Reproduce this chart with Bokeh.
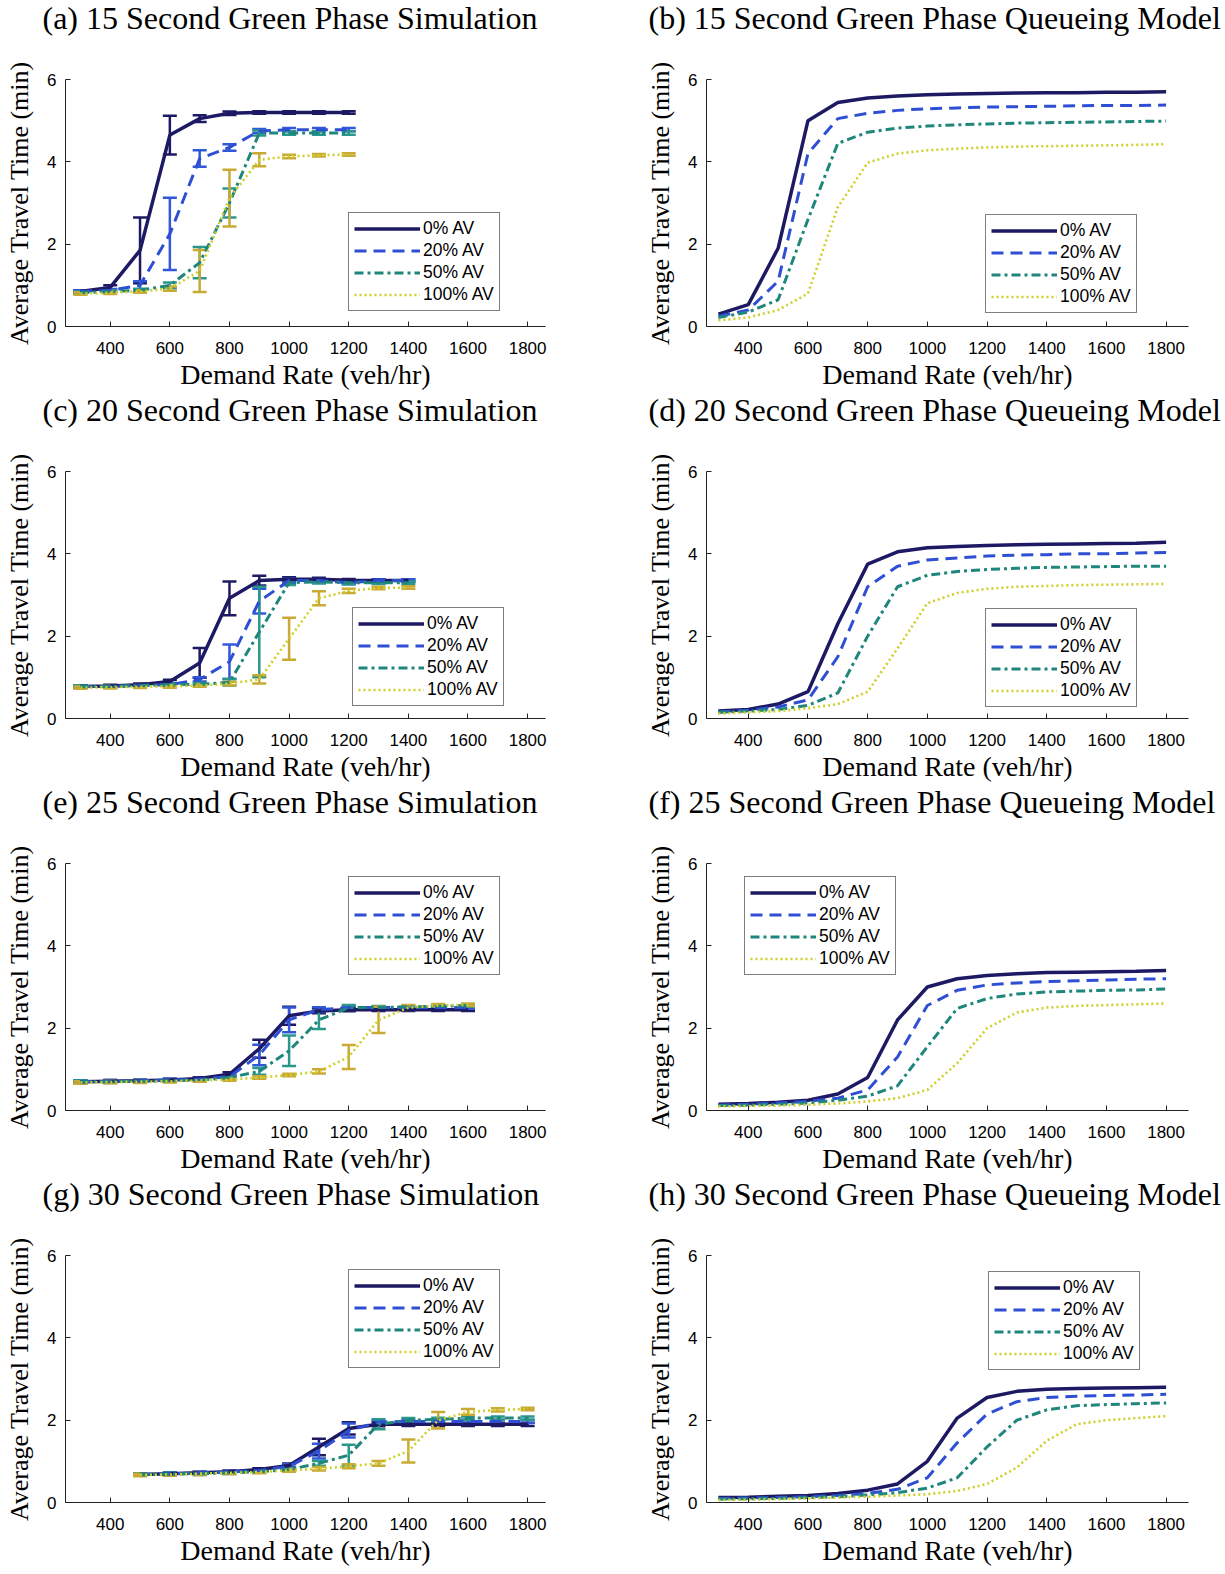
from bokeh.plotting import figure
from bokeh.models import ColumnDataSource, Whisker, TeeHead, Legend, LegendItem, FixedTicker, Title
from bokeh.layouts import gridplot
from bokeh.embed import file_html
from bokeh.resources import INLINE

# ---------------- data ----------------
series_labels = ["0% AV", "20% AV", "50% AV", "100% AV"]
x_ticks = [400, 600, 800, 1000, 1200, 1400, 1600, 1800]
y_ticks = [0, 2, 4, 6]

titles = [
    "(a) 15 Second Green Phase Simulation",
    "(b) 15 Second Green Phase Queueing Model",
    "(c) 20 Second Green Phase Simulation",
    "(d) 20 Second Green Phase Queueing Model",
    "(e) 25 Second Green Phase Simulation",
    "(f) 25 Second Green Phase Queueing Model",
    "(g) 30 Second Green Phase Simulation",
    "(h) 30 Second Green Phase Queueing Model",
]

# (a) 15 s simulation
a_x = [300, 400, 500, 600, 700, 800, 900, 1000, 1100, 1200]
a_av0 = [0.85, 0.95, 1.85, 4.65, 5.05, 5.18, 5.2, 5.2, 5.2, 5.2]
a_av20 = [0.85, 0.88, 1.0, 2.25, 4.08, 4.35, 4.75, 4.78, 4.78, 4.78]
a_av50 = [0.82, 0.85, 0.88, 1.0, 1.55, 3.0, 4.7, 4.7, 4.7, 4.7]
a_av100 = [0.8, 0.82, 0.85, 0.92, 1.35, 3.12, 4.05, 4.13, 4.16, 4.18]
a_err0 = [0.03, 0.05, 0.8, 0.47, 0.08, 0.04, 0.03, 0.03, 0.03, 0.03]
a_err20 = [0.03, 0.03, 0.1, 0.88, 0.2, 0.08, 0.05, 0.04, 0.04, 0.04]
a_err50 = [0.03, 0.03, 0.04, 0.07, 0.38, 0.35, 0.06, 0.04, 0.04, 0.04]
a_err100 = [0.03, 0.03, 0.03, 0.05, 0.51, 0.69, 0.16, 0.04, 0.03, 0.03]

# (b) 15 s queueing model
q_x = [300, 400, 500, 600, 700, 800, 900, 1000, 1100, 1200, 1300, 1400, 1500, 1600, 1700, 1800]
b_av0 = [0.3, 0.53, 1.9, 5.0, 5.44, 5.55, 5.6, 5.63, 5.65, 5.66, 5.67, 5.68, 5.68, 5.69, 5.69, 5.7]
b_av20 = [0.25, 0.4, 1.1, 4.2, 5.05, 5.18, 5.25, 5.29, 5.31, 5.33, 5.34, 5.35, 5.36, 5.37, 5.37, 5.38]
b_av50 = [0.22, 0.35, 0.65, 2.6, 4.45, 4.72, 4.82, 4.87, 4.9, 4.92, 4.94, 4.95, 4.96, 4.97, 4.98, 4.99]
b_av100 = [0.15, 0.22, 0.4, 0.8, 2.9, 3.98, 4.2, 4.28, 4.32, 4.35, 4.37, 4.38, 4.39, 4.4, 4.41, 4.43]

# (c) 20 s simulation
c_x = [300, 400, 500, 600, 700, 800, 900, 1000, 1100, 1200, 1300, 1400]
c_av0 = [0.78, 0.79, 0.82, 0.9, 1.35, 2.92, 3.35, 3.38, 3.38, 3.36, 3.35, 3.35]
c_av20 = [0.78, 0.78, 0.8, 0.82, 0.95, 1.38, 2.85, 3.35, 3.35, 3.3, 3.35, 3.35]
c_av50 = [0.78, 0.78, 0.8, 0.82, 0.83, 0.88, 2.1, 3.3, 3.32, 3.3, 3.3, 3.3]
c_av100 = [0.75, 0.76, 0.77, 0.78, 0.8, 0.85, 0.95, 1.94, 2.92, 3.1, 3.17, 3.18]
c_err0 = [0.03, 0.03, 0.03, 0.04, 0.36, 0.41, 0.12, 0.05, 0.04, 0.03, 0.03, 0.03]
c_err20 = [0.03, 0.03, 0.03, 0.03, 0.05, 0.42, 0.3, 0.05, 0.04, 0.04, 0.03, 0.03]
c_err50 = [0.03, 0.03, 0.03, 0.03, 0.03, 0.08, 1.1, 0.06, 0.04, 0.04, 0.03, 0.03]
c_err100 = [0.03, 0.03, 0.03, 0.03, 0.03, 0.04, 0.1, 0.51, 0.17, 0.05, 0.03, 0.03]

# (d) 20 s queueing model
d_av0 = [0.18, 0.22, 0.35, 0.65, 2.3, 3.75, 4.05, 4.15, 4.18, 4.2, 4.22, 4.23, 4.24, 4.25, 4.26, 4.28]
d_av20 = [0.16, 0.2, 0.28, 0.45, 1.5, 3.2, 3.7, 3.85, 3.9, 3.95, 3.97, 3.98, 4.0, 4.0, 4.02, 4.03]
d_av50 = [0.15, 0.18, 0.22, 0.32, 0.62, 2.0, 3.2, 3.48, 3.57, 3.62, 3.65, 3.67, 3.68, 3.69, 3.7, 3.7]
d_av100 = [0.12, 0.15, 0.18, 0.25, 0.35, 0.65, 1.7, 2.8, 3.05, 3.15, 3.2, 3.22, 3.24, 3.25, 3.26, 3.27]

# (e) 25 s simulation
e_x = [300, 400, 500, 600, 700, 800, 900, 1000, 1100, 1200, 1300, 1400, 1500, 1600]
e_av0 = [0.7, 0.71, 0.72, 0.74, 0.78, 0.88, 1.5, 2.3, 2.42, 2.45, 2.45, 2.45, 2.45, 2.45]
e_av20 = [0.7, 0.71, 0.72, 0.74, 0.76, 0.82, 1.35, 2.2, 2.45, 2.5, 2.5, 2.5, 2.5, 2.5]
e_av50 = [0.7, 0.7, 0.71, 0.72, 0.74, 0.8, 0.95, 1.45, 2.2, 2.5, 2.5, 2.52, 2.53, 2.55]
e_av100 = [0.68, 0.69, 0.7, 0.71, 0.73, 0.75, 0.8, 0.86, 0.95, 1.3, 2.2, 2.5, 2.55, 2.57]
e_err0 = [0.03, 0.03, 0.03, 0.03, 0.03, 0.05, 0.22, 0.22, 0.06, 0.04, 0.03, 0.03, 0.03, 0.03]
e_err20 = [0.03, 0.03, 0.03, 0.03, 0.03, 0.04, 0.25, 0.3, 0.06, 0.04, 0.03, 0.03, 0.03, 0.03]
e_err50 = [0.03, 0.03, 0.03, 0.03, 0.03, 0.04, 0.08, 0.37, 0.22, 0.06, 0.04, 0.03, 0.03, 0.03]
e_err100 = [0.03, 0.03, 0.03, 0.03, 0.03, 0.03, 0.03, 0.03, 0.05, 0.29, 0.32, 0.06, 0.04, 0.03]

# (f) 25 s queueing model
f_av0 = [0.15, 0.17, 0.2, 0.25, 0.4, 0.8, 2.2, 3.0, 3.2, 3.28, 3.32, 3.35, 3.36, 3.37, 3.38, 3.4]
f_av20 = [0.13, 0.15, 0.18, 0.22, 0.3, 0.5, 1.3, 2.55, 2.92, 3.05, 3.1, 3.13, 3.15, 3.17, 3.19, 3.2]
f_av50 = [0.12, 0.13, 0.15, 0.18, 0.25, 0.35, 0.6, 1.55, 2.48, 2.72, 2.83, 2.88, 2.9, 2.92, 2.93, 2.95]
f_av100 = [0.1, 0.11, 0.12, 0.14, 0.17, 0.22, 0.3, 0.5, 1.15, 2.0, 2.38, 2.5, 2.54, 2.56, 2.58, 2.6]

# (g) 30 s simulation
g_x = [500, 600, 700, 800, 900, 1000, 1100, 1200, 1300, 1400, 1500, 1600, 1700, 1800]
g_av0 = [0.68, 0.7, 0.72, 0.75, 0.8, 0.9, 1.35, 1.8, 1.9, 1.9, 1.9, 1.9, 1.9, 1.9]
g_av20 = [0.68, 0.7, 0.72, 0.74, 0.78, 0.88, 1.25, 1.75, 1.95, 1.97, 1.97, 1.97, 1.97, 1.97]
g_av50 = [0.68, 0.69, 0.7, 0.72, 0.75, 0.8, 0.95, 1.15, 1.9, 2.0, 2.02, 2.05, 2.05, 2.05]
g_av100 = [0.67, 0.68, 0.7, 0.72, 0.74, 0.78, 0.82, 0.88, 0.95, 1.25, 2.0, 2.2, 2.25, 2.27]
g_err0 = [0.03, 0.03, 0.03, 0.03, 0.03, 0.05, 0.2, 0.15, 0.05, 0.04, 0.04, 0.04, 0.04, 0.04]
g_err20 = [0.03, 0.03, 0.03, 0.03, 0.03, 0.05, 0.18, 0.17, 0.05, 0.04, 0.04, 0.04, 0.04, 0.04]
g_err50 = [0.03, 0.03, 0.03, 0.03, 0.03, 0.04, 0.06, 0.25, 0.12, 0.05, 0.04, 0.04, 0.04, 0.04]
g_err100 = [0.03, 0.03, 0.03, 0.03, 0.03, 0.03, 0.04, 0.05, 0.06, 0.28, 0.2, 0.07, 0.04, 0.03]

# (h) 30 s queueing model
h_av0 = [0.12, 0.13, 0.15, 0.17, 0.22, 0.3, 0.45, 1.0, 2.05, 2.55, 2.7, 2.75, 2.77, 2.78, 2.79, 2.8]
h_av20 = [0.1, 0.11, 0.12, 0.14, 0.17, 0.22, 0.32, 0.6, 1.45, 2.15, 2.45, 2.55, 2.58, 2.6, 2.61, 2.63]
h_av50 = [0.08, 0.09, 0.1, 0.12, 0.14, 0.18, 0.24, 0.35, 0.6, 1.35, 2.0, 2.25, 2.35, 2.38, 2.4, 2.42]
h_av100 = [0.06, 0.07, 0.08, 0.1, 0.12, 0.14, 0.17, 0.2, 0.28, 0.45, 0.85, 1.5, 1.9, 2.0, 2.05, 2.1]

# ---------------- styles ----------------
LINE_COLORS = ["#1d1a63", "#2e4fd3", "#1f867c", "#cfcf28"]
ERR_COLORS = ["#1d1a63", "#3058d8", "#2a978c", "#c9aa34"]
LINE_WIDTHS = [3.5, 3.0, 3.0, 2.6]
DASHES = ["solid", "12 7", "9 4 3 4", "2 3"]
SERIF = "Liberation Serif"
SANS = "Liberation Sans"
FRAME_TOP = 79
FRAME_BOTTOM = 326


def make_panel(title_text, xs, ys_list, errs_list, left_col, legend_xy, h):
    if left_col:
        w, mbl, mbr, xr, toff = 612, 65, 67, (250, 1860), -23
    else:
        w, mbl, mbr, xr, toff = 613, 94, 37, (260, 1875), -58
    p = figure(width=w, height=h, x_range=xr, y_range=(0, 6),
               output_backend="svg", toolbar_location=None,
               min_border_left=mbl, min_border_right=mbr,
               min_border_top=FRAME_TOP, min_border_bottom=h - FRAME_BOTTOM)
    p.outline_line_color = None
    p.xgrid.visible = False
    p.ygrid.visible = False
    p.background_fill_color = "white"
    p.border_fill_color = "white"

    # spacer between the frame and the caption, then the caption itself
    p.add_layout(Title(text=" ", text_font_size="10px", standoff=35,
                       text_color="white"), "above")
    p.add_layout(Title(text=title_text, align="left", offset=toff, standoff=-8,
                       text_font=SERIF, text_font_size="32px",
                       text_font_style="normal", text_color="black"), "above")

    p.xaxis.ticker = FixedTicker(ticks=x_ticks)
    p.yaxis.ticker = FixedTicker(ticks=y_ticks)
    for ax in (p.xaxis, p.yaxis):
        ax.major_tick_in = 5
        ax.major_tick_out = 0
        ax.minor_tick_line_color = None
        ax.axis_line_color = "#222222"
        ax.major_tick_line_color = "#222222"
        ax.major_label_text_font = SANS
        ax.major_label_text_font_size = "17px"
        ax.major_label_text_color = "black"
        ax.axis_label_text_font = SERIF
        ax.axis_label_text_font_style = "normal"
        ax.axis_label_text_color = "black"
    p.xaxis.axis_label_text_font_size = "28px"
    p.yaxis.axis_label_text_font_size = "26px"
    p.xaxis.axis_label = "Demand Rate (veh/hr)"
    p.yaxis.axis_label = "Average Travel Time (min)"
    p.xaxis.major_label_standoff = 15
    p.xaxis.axis_label_standoff = 2
    p.yaxis.major_label_standoff = 9
    p.yaxis.axis_label_standoff = 10

    items = []
    for i, ys in enumerate(ys_list):
        src = dict(x=xs, y=ys)
        if errs_list is not None:
            errs = errs_list[i]
            src["lo"] = [y - e for y, e in zip(ys, errs)]
            src["hi"] = [y + e for y, e in zip(ys, errs)]
        source = ColumnDataSource(src)
        r = p.line("x", "y", source=source, line_color=LINE_COLORS[i],
                   line_width=LINE_WIDTHS[i], line_dash=DASHES[i])
        if errs_list is not None:
            wk = Whisker(base="x", lower="lo", upper="hi", source=source,
                         line_color=ERR_COLORS[i], line_width=2.5,
                         upper_head=TeeHead(size=14, line_color=ERR_COLORS[i], line_width=2.5),
                         lower_head=TeeHead(size=14, line_color=ERR_COLORS[i], line_width=2.5))
            p.add_layout(wk)
        items.append(LegendItem(label=series_labels[i], renderers=[r]))

    leg = Legend(items=items, location=legend_xy, glyph_width=66, glyph_height=19,
                 label_height=19, label_standoff=3, spacing=1, padding=5, margin=0,
                 label_text_font=SANS, label_text_font_size="17.5px",
                 label_text_color="black",
                 border_line_color="black", border_line_width=1,
                 background_fill_color="white", background_fill_alpha=1.0)
    p.add_layout(leg)
    return p


pa = make_panel(titles[0], a_x, [a_av0, a_av20, a_av50, a_av100],
                [a_err0, a_err20, a_err50, a_err100], True, (283, 15), 392)
pb = make_panel(titles[1], q_x, [b_av0, b_av20, b_av50, b_av100],
                None, False, (279, 13), 392)
pc = make_panel(titles[2], c_x, [c_av0, c_av20, c_av50, c_av100],
                [c_err0, c_err20, c_err50, c_err100], True, (287, 12), 392)
pd = make_panel(titles[3], q_x, [d_av0, d_av20, d_av50, d_av100],
                None, False, (279, 11), 392)
pe = make_panel(titles[4], e_x, [e_av0, e_av20, e_av50, e_av100],
                [e_err0, e_err20, e_err50, e_err100], True, (283, 135), 392)
pf = make_panel(titles[5], q_x, [f_av0, f_av20, f_av50, f_av100],
                None, False, (38, 135), 392)
pg = make_panel(titles[6], g_x, [g_av0, g_av20, g_av50, g_av100],
                [g_err0, g_err20, g_err50, g_err100], True, (283, 134), 398)
ph = make_panel(titles[7], q_x, [h_av0, h_av20, h_av50, h_av100],
                None, False, (282, 132), 398)

grid = gridplot([[pa, pb], [pc, pd], [pe, pf], [pg, ph]], toolbar_location=None)

open("out.html", "w").write(file_html(grid, INLINE))
